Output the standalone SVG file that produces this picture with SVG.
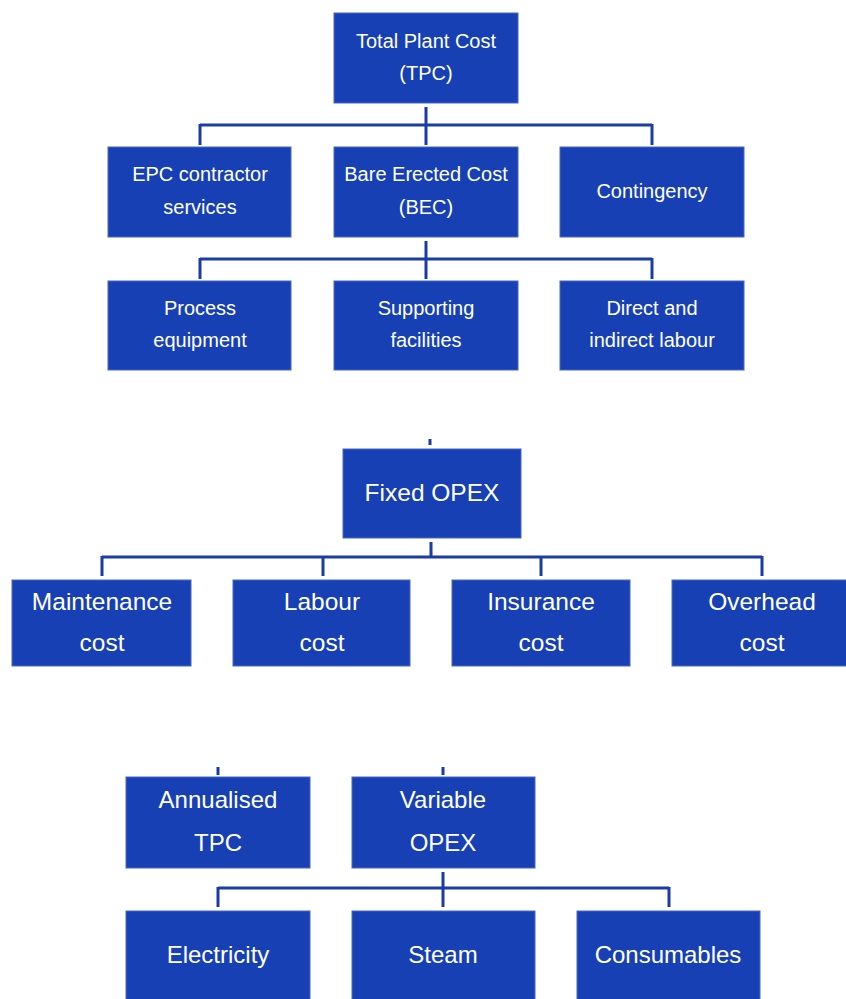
<svg xmlns="http://www.w3.org/2000/svg" width="846" height="999" viewBox="0 0 846 999">
<style>
.box{fill:#1740B4;stroke:#4a66c4;stroke-width:1}
.t{font-family:"Liberation Sans",Arial,sans-serif;fill:#ffffff;text-anchor:middle}
.s{font-size:20px}
.m{font-size:24.5px}
.b{font-size:24px}
.c{fill:none;stroke:#1a3ca8;stroke-width:3}
</style>
<rect width="846" height="999" fill="#ffffff"/>
<g id="connectors">
<path class="c" d="M426 107V145M200 125H652M200 124V145M652 124V145"/>
<path class="c" d="M426 241V279M200 259H652M200 258V279M652 258V279"/>
<path class="c" d="M430 439V445"/>
<path class="c" d="M431 542V558M102 557H762M102 556V576M323 556V576M541 556V576M762 556V576"/>
<path class="c" d="M218 767V775M443 767V775"/>
<path class="c" d="M443 872V907M218 888H669M218 887V907M669 887V907"/>
</g>
<g id="tpc"><rect class="box" x="334" y="13" width="184" height="90"/><text class="t s" x="426" y="48">Total Plant Cost</text><text class="t s" x="426" y="80">(TPC)</text></g>
<g id="epc"><rect class="box" x="108" y="147" width="183" height="90"/><text class="t s" x="200" y="181">EPC contractor</text><text class="t s" x="200" y="214">services</text></g>
<g id="bec"><rect class="box" x="334" y="147" width="184" height="90"/><text class="t s" x="426" y="181">Bare Erected Cost</text><text class="t s" x="426" y="214">(BEC)</text></g>
<g id="contingency"><rect class="box" x="560" y="147" width="184" height="90"/><text class="t s" x="652" y="198">Contingency</text></g>
<g id="process"><rect class="box" x="108" y="281" width="183" height="89"/><text class="t s" x="200" y="315">Process</text><text class="t s" x="200" y="347">equipment</text></g>
<g id="supporting"><rect class="box" x="334" y="281" width="184" height="89"/><text class="t s" x="426" y="315">Supporting</text><text class="t s" x="426" y="347">facilities</text></g>
<g id="labour-direct"><rect class="box" x="560" y="281" width="184" height="89"/><text class="t s" x="652" y="315">Direct and</text><text class="t s" x="652" y="347">indirect labour</text></g>
<g id="fixed-opex"><rect class="box" x="343" y="449" width="178" height="89"/><text class="t m" x="432" y="501">Fixed OPEX</text></g>
<g id="maintenance"><rect class="box" x="12" y="580" width="179" height="86"/><text class="t m" x="102" y="610">Maintenance</text><text class="t m" x="102" y="651">cost</text></g>
<g id="labour"><rect class="box" x="233" y="580" width="177" height="86"/><text class="t m" x="322" y="610">Labour</text><text class="t m" x="322" y="651">cost</text></g>
<g id="insurance"><rect class="box" x="452" y="580" width="178" height="86"/><text class="t m" x="541" y="610">Insurance</text><text class="t m" x="541" y="651">cost</text></g>
<g id="overhead"><rect class="box" x="672" y="580" width="175" height="86"/><text class="t m" x="762" y="610">Overhead</text><text class="t m" x="762" y="651">cost</text></g>
<g id="annualised"><rect class="box" x="126" y="777" width="184" height="91"/><text class="t b" x="218" y="808">Annualised</text><text class="t b" x="218" y="851">TPC</text></g>
<g id="variable-opex"><rect class="box" x="352" y="777" width="183" height="91"/><text class="t b" x="443" y="808">Variable</text><text class="t b" x="443" y="851">OPEX</text></g>
<g id="electricity"><rect class="box" x="126" y="911" width="184" height="90"/><text class="t b" x="218" y="963">Electricity</text></g>
<g id="steam"><rect class="box" x="352" y="911" width="183" height="90"/><text class="t b" x="443" y="963">Steam</text></g>
<g id="consumables"><rect class="box" x="577" y="911" width="183" height="90"/><text class="t b" x="668" y="963">Consumables</text></g>
</svg>
